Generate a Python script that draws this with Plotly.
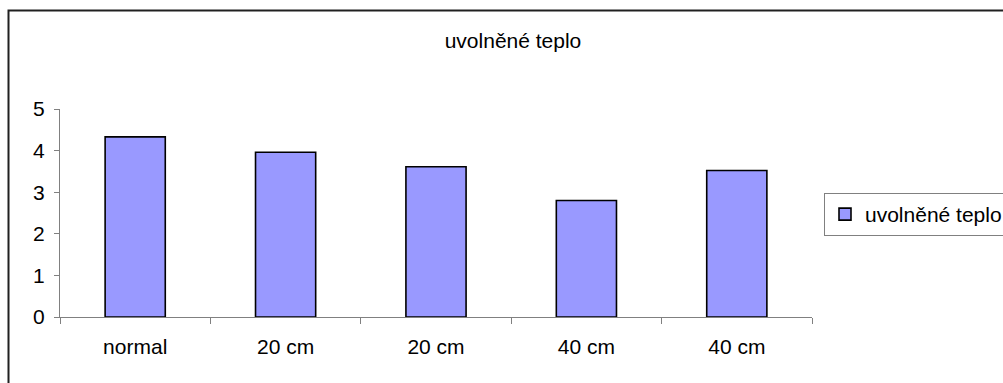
import plotly.graph_objects as go

# Released heat per configuration
categories = ["normal", "20 cm", "20 cm", "40 cm", "40 cm"]
values = [4.33, 3.96, 3.61, 2.80, 3.52]
series_name = "uvolněné teplo"
y_ticks = [0, 1, 2, 3, 4, 5]

W, H = 1003, 383
L, R, T, B = 60, 191, 109, 66
plot_w = W - L - R
plot_h = H - T - B


def px_x(px):
    return (px - L) / plot_w


def px_y(py):
    return (H - B - py) / plot_h


FS = 21
font = dict(family="Liberation Sans, Arial, sans-serif", size=FS, color="#000000")
axis_grey = "#808080"

positions = list(range(len(categories)))

fig = go.Figure(
    go.Bar(
        x=positions,
        y=values,
        name=series_name,
        width=0.4,
        marker=dict(color="#9999FF", line=dict(color="#000000", width=1.6)),
        showlegend=True,
    )
)

fig.update_layout(
    width=W,
    height=H,
    margin=dict(l=L, r=R, t=T, b=B, autoexpand=False),
    paper_bgcolor="white",
    plot_bgcolor="white",
    font=font,
    title=dict(
        text=series_name,
        x=513 / W,
        xanchor="center",
        xref="container",
        y=1 - 41 / H,
        yref="container",
        yanchor="middle",
        font=dict(size=FS),
    ),
    xaxis=dict(
        range=[-0.5, len(categories) - 0.5],
        tickvals=positions,
        ticktext=categories,
        ticks="",
        showline=True,
        linecolor=axis_grey,
        linewidth=1,
        showgrid=False,
        zeroline=False,
        ticklabelstandoff=11,
        minor=dict(
            tickvals=[p - 0.5 for p in positions] + [len(categories) - 0.5],
            ticks="outside",
            ticklen=6,
            tickcolor=axis_grey,
            tickwidth=1,
            showgrid=False,
        ),
    ),
    yaxis=dict(
        range=[0, 5],
        tickvals=y_ticks,
        ticks="outside",
        ticklen=5,
        tickcolor=axis_grey,
        showline=True,
        linecolor=axis_grey,
        linewidth=1,
        showgrid=False,
        zeroline=False,
        ticklabelstandoff=5,
    ),
    legend=dict(
        x=px_x(824),
        y=px_y(193),
        xanchor="left",
        yanchor="top",
        bordercolor=axis_grey,
        borderwidth=1,
        bgcolor="white",
        font=dict(size=FS),
        itemwidth=30,
    ),
)

# Chart frame around the whole drawing area
fig.add_shape(
    type="rect",
    xref="paper",
    yref="paper",
    x0=px_x(8.5),
    x1=px_x(1015),
    y0=px_y(395),
    y1=px_y(10.5),
    line=dict(color="#202020", width=2),
    fillcolor="rgba(0,0,0,0)",
    layer="below",
)

fig.write_html("out.html")
